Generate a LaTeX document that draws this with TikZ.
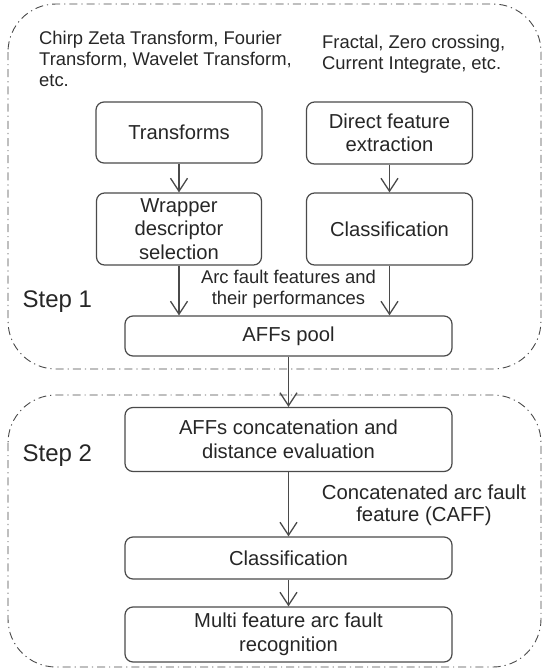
\documentclass[tikz,border=0pt]{standalone}
\usepackage{fontspec}
\setmainfont{Liberation Sans}
\usetikzlibrary{arrows.meta}
\definecolor{ln}{HTML}{4A4A4A}
\definecolor{tx}{HTML}{262626}
\begin{document}
\begin{tikzpicture}[x=1pt,y=-1pt,
  box/.style={draw=ln,line width=1.2pt,rounded corners=8pt,text=tx,align=center,inner sep=0pt,
    font=\fontsize{20.2}{23.5}\selectfont},
  note/.style={text=tx,inner sep=0pt,font=\fontsize{18.4}{21}\selectfont},
  bignote/.style={text=tx,inner sep=0pt,font=\fontsize{20.3}{21.5}\selectfont},
  steplabel/.style={text=tx,inner sep=0pt,font=\fontsize{24}{28}\selectfont},
  group/.style={draw=ln,line width=0.9pt,rounded corners=48pt,dash pattern=on 8pt off 4pt on 1.2pt off 4pt},
  arr/.style={draw=ln,line width=1.3pt,-{Straight Barb[length=13pt,width=17pt,line width=1.3pt]}}]
\useasboundingbox (0,0) rectangle (543,670);
% groups
\draw[group] (8,4) rectangle (541,369);
\draw[group] (8,395) rectangle (541,667);
% boxes
\node[box,minimum width=166pt,minimum height=61pt] (tr) at (179,132.5) {Transforms};
\node[box,minimum width=166pt,minimum height=62pt] (df) at (389.5,133) {Direct feature\\extraction};
\node[box,minimum width=165pt,minimum height=72pt] (wr) at (179,229) {Wrapper\\descriptor\\selection};
\node[box,minimum width=166pt,minimum height=72pt] (cl) at (389.5,229) {Classification};
\node[box,minimum width=327pt,minimum height=40pt] (pool) at (288.5,336) {AFFs pool};
\node[box,minimum width=327pt,minimum height=64pt] (cat) at (288.5,439.5) {AFFs concatenation and\\distance evaluation};
\node[box,minimum width=327pt,minimum height=42pt] (cl2) at (288.5,558) {Classification};
\node[box,minimum width=327pt,minimum height=55pt] (mf) at (288.5,634.5) {Multi feature arc fault\\recognition};
% notes
\node[note,align=left,anchor=north west] (n1) at (39,31) {Chirp Zeta Transform, Fourier\\Transform, Wavelet Transform,\\etc.};
\node[note,align=left,anchor=north west] (n2) at (322,35) {Fractal, Zero crossing,\\Current Integrate, etc.};
\node[note,align=center,anchor=north] (n3) at (288.5,270) {Arc fault features and\\their performances};
\node[bignote,align=center,anchor=north] (n4) at (424,485) {Concatenated arc fault\\feature (CAFF)};
\node[steplabel,anchor=base west] (s1) at (22.5,307) {Step 1};
\node[steplabel,anchor=base west] (s2) at (22.5,461) {Step 2};
% arrows
\draw[arr] (tr) -- (wr);
\draw[arr] (df) -- (cl);
\draw[arr] (wr.south) -- (wr.south |- pool.north);
\draw[arr] (cl.south) -- (cl.south |- pool.north);
\draw[arr] (pool) -- (cat);
\draw[arr] (cat) -- (cl2);
\draw[arr] (cl2) -- (mf);
\end{tikzpicture}
\end{document}
